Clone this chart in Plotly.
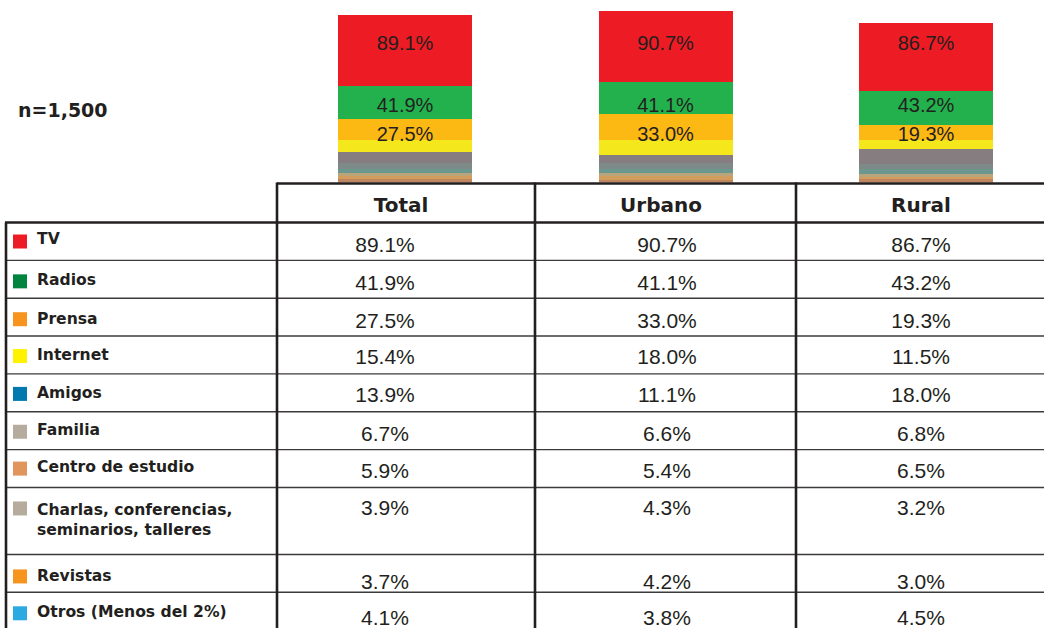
import plotly.graph_objects as go

# ---------------- data ----------------
groups = ["Total", "Urbano", "Rural"]
sources = ["TV", "Radios", "Prensa", "Internet", "Amigos", "Familia",
           "Centro de estudio", "Charlas, conferencias,<br>seminarios, talleres",
           "Revistas", "Otros (Menos del 2%)"]
total = [89.1, 41.9, 27.5, 15.4, 13.9, 6.7, 5.9, 3.9, 3.7, 4.1]
urbano = [90.7, 41.1, 33.0, 18.0, 11.1, 6.6, 5.4, 4.3, 4.2, 3.8]
rural = [86.7, 43.2, 19.3, 11.5, 18.0, 6.8, 6.5, 3.2, 3.0, 4.5]
sample_note = "n=1,500"

# ---------------- styles ----------------
bar_colors = ["#ED1C24", "#22B14C", "#FDB913", "#F4E81C", "#857D80",
              "#7D8A88", "#6C978F", "#B8A57B", "#D29D5C", "#BE855F"]
legend_colors = ["#ED1C24", "#00843F", "#F7941D", "#FFF200", "#0079AF",
                 "#B5AC9D", "#DF955B", "#B5AC9D", "#F7941D", "#2BAAE1"]
INK = "#231F20"
W, H = 1044, 628

# bar geometry (pixels)
BAR_BASE_PX = 182.5
PX_PER_UNIT = 0.788
BAR_CENTER0 = 405
BAR_STEP = 260.5
BAR_WIDTH_PX = 134
LABEL_PX = [45, 107, 136]   # vertical pixel position of the bar labels (first 3 series)

# table geometry (pixels)
HEADER_TOP = 183.5
TABLE_TOP = 222.5
ROW_PITCH = 37.85
ROW_SPAN = [1, 1, 1, 1, 1, 1, 1, 1.77, 1, 1]
COL_LINES = [277, 535, 796]
LEFT_EDGE = 6
VALUE_X = [385, 667, 921]
HEADER_X = [401, 661, 921]
VALUE_DY = [24.5, 24, 24.5, 23, 23, 23.5, 23, 22, 29, 27.5]
LABEL_DY = [18, 21, 21.5, 20, 20, 19.5, 19, 23, 23, 21]
MARKER_DY = [19, 21, 21, 20, 20, 20, 19, 21, 22, 21]

row_tops = []
acc = TABLE_TOP
for s in ROW_SPAN:
    row_tops.append(acc)
    acc += s * ROW_PITCH

fig = go.Figure()

# stacked bars (bottom = last series)
series_cols = [total, urbano, rural]
for i in reversed(range(len(sources))):
    fig.add_trace(go.Bar(
        x=groups, y=[col[i] for col in series_cols],
        marker=dict(color=bar_colors[i], line=dict(width=0)),
        width=BAR_WIDTH_PX / BAR_STEP, hoverinfo="skip", showlegend=False,
        xaxis="x", yaxis="y"))

# bar labels for the first three series
for k in range(3):
    yv = (BAR_BASE_PX - LABEL_PX[k]) / PX_PER_UNIT
    fig.add_trace(go.Scatter(
        x=groups, y=[yv] * 3, mode="text",
        text=[f"{col[k]:.1f}%" for col in series_cols],
        textposition="middle center",
        textfont=dict(family="Liberation Sans, Arial", size=20, color=INK),
        hoverinfo="skip", showlegend=False, cliponaxis=False,
        xaxis="x", yaxis="y"))

# table: headers
fig.add_trace(go.Scatter(
    x=HEADER_X, y=[(HEADER_TOP + TABLE_TOP) / 2 + 4] * 3, mode="text", text=groups,
    textposition="middle center",
    textfont=dict(family="DejaVu Sans", size=20, color=INK, weight="bold"),
    hoverinfo="skip", showlegend=False, cliponaxis=False, xaxis="x2", yaxis="y2"))

# table: values
for c, col in enumerate(series_cols):
    fig.add_trace(go.Scatter(
        x=[VALUE_X[c]] * len(col),
        y=[row_tops[r] + VALUE_DY[r] for r in range(len(col))],
        mode="text", text=[f"{v:.1f}%" for v in col],
        textposition="middle center",
        textfont=dict(family="Liberation Sans, Arial", size=21, color=INK),
        hoverinfo="skip", showlegend=False, cliponaxis=False,
        xaxis="x2", yaxis="y2"))

# table: legend markers
fig.add_trace(go.Scatter(
    x=[20] * len(sources),
    y=[row_tops[r] + MARKER_DY[r] for r in range(len(sources))],
    mode="markers",
    marker=dict(symbol="square", size=14, color=legend_colors, line=dict(width=0)),
    hoverinfo="skip", showlegend=False, cliponaxis=False, xaxis="x2", yaxis="y2"))

# table: labels
fig.add_trace(go.Scatter(
    x=[37] * len(sources),
    y=[row_tops[r] + LABEL_DY[r] + 10.5 * s.count("<br>") for r, s in enumerate(sources)],
    mode="text", text=sources, textposition="middle right",
    textfont=dict(family="DejaVu Sans", size=15.6, color=INK, weight="bold"),
    hoverinfo="skip", showlegend=False, cliponaxis=False, xaxis="x2", yaxis="y2"))

# table lines
shapes = []
thick = dict(color=INK, width=2.6)
thin = dict(color="#3C3A3B", width=1.4)
shapes.append(dict(type="line", xref="x2", yref="y2", x0=COL_LINES[0], x1=W,
                   y0=HEADER_TOP, y1=HEADER_TOP, line=thick))
shapes.append(dict(type="line", xref="x2", yref="y2", x0=LEFT_EDGE - 1, x1=W,
                   y0=TABLE_TOP, y1=TABLE_TOP, line=thick))
shapes.append(dict(type="line", xref="x2", yref="y2", x0=LEFT_EDGE, x1=LEFT_EDGE,
                   y0=TABLE_TOP, y1=H + 5, line=thick))
for xl in COL_LINES:
    shapes.append(dict(type="line", xref="x2", yref="y2", x0=xl, x1=xl,
                       y0=HEADER_TOP - 1, y1=H + 5, line=thick))
for yt in row_tops[1:]:
    shapes.append(dict(type="line", xref="x2", yref="y2", x0=LEFT_EDGE, x1=W,
                       y0=yt, y1=yt, line=thin, layer="below"))

x_span = W / BAR_STEP
x0 = -BAR_CENTER0 / BAR_STEP

fig.update_layout(
    width=W, height=H, margin=dict(l=0, r=0, t=0, b=0),
    paper_bgcolor="white", plot_bgcolor="rgba(0,0,0,0)",
    barmode="stack", bargap=0,
    xaxis=dict(domain=[0, 1], range=[x0, x0 + x_span], visible=False,
               type="category", categoryorder="array", categoryarray=groups,
               anchor="y", fixedrange=True),
    yaxis=dict(domain=[(H - BAR_BASE_PX) / H, 1], range=[0, BAR_BASE_PX / PX_PER_UNIT],
               visible=False, anchor="x", fixedrange=True),
    xaxis2=dict(domain=[0, 1], range=[0, W], visible=False, anchor="y2",
                fixedrange=True),
    yaxis2=dict(domain=[0, 1], range=[H, 0], visible=False, anchor="x2",
                fixedrange=True),
    shapes=shapes,
    annotations=[dict(text=sample_note, xref="paper", yref="paper",
                      x=16 / W, y=(H - 110) / H, xanchor="left", yanchor="middle",
                      showarrow=False,
                      font=dict(family="DejaVu Sans", size=19, color=INK, weight="bold"))],
)

fig.write_html(
    "out.html",
    config={"displayModeBar": False},
    post_script="document.body.style.margin='0';document.body.style.overflow='hidden';",
)
